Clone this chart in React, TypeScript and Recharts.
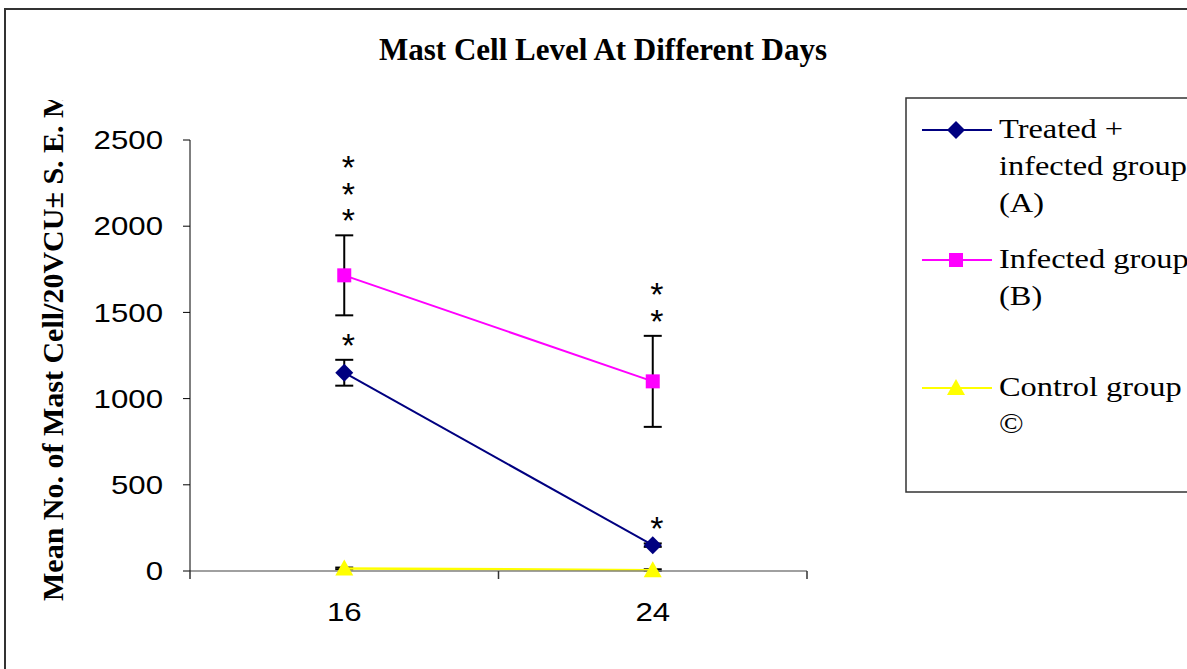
import { LineChart, Line, XAxis, YAxis, ErrorBar, LabelList } from "recharts";

// Days of observation (x categories)
const days = [16, 24];

// Mean mast cell counts and S.E.M. per group
const treated = [1150, 150];
const treatedErr = [75, 10];
const infected = [1715, 1100];
const infectedErr = [232, 264];
const control = [15, 5];
const controlErr = [5, 5];

// Significance stars drawn above each point
const treatedStars = [1, 1];
const infectedStars = [3, 2];

const yTicks = [0, 500, 1000, 1500, 2000, 2500];

const TITLE = "Mast Cell Level At Different Days";
const Y_LABEL = "Mean No. of Mast Cell/20VCU± S. E. M";

const NAVY = "#000080";
const MAGENTA = "#FF00FF";
const YELLOW = "#FFFF00";
const SERIF = "'Liberation Serif', 'Times New Roman', serif";
const SANS = "'Liberation Sans', Arial, sans-serif";

const legendItems = [
  { lines: ["Treated +", "infected group", "(A)"], color: NAVY, shape: "diamond", y: 130 },
  { lines: ["Infected group", "(B)"], color: MAGENTA, shape: "square", y: 260 },
  { lines: ["Control group", "©"], color: YELLOW, shape: "triangle", y: 388 },
];

// x ticks: boundaries between the day categories plus the days themselves
const step = days[1] - days[0];
const boundaries = [days[0] - step / 2, ...days.map((d) => d + step / 2)];
const xTicks = [...boundaries, ...days].sort((a, b) => a - b);

const data = days.map((day, i) => ({
  day,
  treated: treated[i],
  treatedErr: treatedErr[i],
  treatedTop: treated[i] + treatedErr[i],
  treatedStars: treatedStars[i],
  infected: infected[i],
  infectedErr: infectedErr[i],
  infectedTop: infected[i] + infectedErr[i],
  infectedStars: infectedStars[i],
  control: control[i],
  controlErr: controlErr[i],
}));

function markerShape(shape: string, cx: number, cy: number, color: string) {
  if (shape === "diamond") {
    return <path d={`M${cx},${cy - 9} L${cx + 9},${cy} L${cx},${cy + 9} L${cx - 9},${cy} Z`} fill={color} />;
  }
  if (shape === "square") {
    return <rect x={cx - 7} y={cy - 7} width={14} height={14} fill={color} />;
  }
  return <path d={`M${cx},${cy - 9} L${cx + 9},${cy + 7} L${cx - 9},${cy + 7} Z`} fill={color} />;
}

const makeDot = (shape: string, color: string) => (props: any) => {
  const { cx, cy, index } = props;
  if (cx == null || cy == null) return <g key={`e-${index}`} />;
  return <g key={`${shape}-${index}`}>{markerShape(shape, cx, cy, color)}</g>;
};

// Stacked asterisks above the top of the error bar (one text, one tspan per star)
function StarLabel(props: any) {
  const { x, y, value } = props;
  const n = Number(value) || 0;
  if (!n) return null;
  return (
    <text textAnchor="middle" fontSize={34} fontFamily={SANS} fill="#000">
      {Array.from({ length: n }, (_, k) => (
        <tspan key={k} x={x + 4} y={y - 3 - 26.5 * (n - 1 - k)}>
          *
        </tspan>
      ))}
    </text>
  );
}

function XTick(props: any) {
  const { x, y, payload } = props;
  const v = payload?.value;
  if (days.includes(v)) {
    return (
      <g transform={`translate(${x},${y + 50}) scale(1.2,1)`}>
        <text x={0} y={0} textAnchor="middle" fontSize={26} fontFamily={SANS} fill="#000">
          {v}
        </text>
      </g>
    );
  }
  return <line x1={x} x2={x} y1={y} y2={y + 8} stroke="#333" strokeWidth={1.5} />;
}

function YTick(props: any) {
  const { x, y, payload } = props;
  return (
    <g transform={`translate(${x},${y}) scale(1.2,1)`}>
      <text x={0} y={0} dy="0.35em" textAnchor="end" fontSize={26} fontFamily={SANS} fill="#000">
        {payload?.value}
      </text>
    </g>
  );
}

function Overlay() {
  return (
    <svg
      width={1187}
      height={669}
      style={{ position: "absolute", left: 0, top: 0, pointerEvents: "none" }}
    >
      <defs>
        <clipPath id="ylabelClip">
          <rect x={0} y={100} width={120} height={560} />
        </clipPath>
      </defs>
      {/* outer frame */}
      <rect x={5} y={9} width={1400} height={900} fill="none" stroke="#333" strokeWidth={2} />
      <text
        x={603}
        y={60}
        textAnchor="middle"
        fontSize={31}
        fontWeight="bold"
        fontFamily={SERIF}
        fill="#000"
      >
        {TITLE}
      </text>
      <g clipPath="url(#ylabelClip)">
        <text
          transform="translate(63,601) rotate(-90)"
          textAnchor="start"
          fontSize={30}
          fontWeight="bold"
          fontFamily={SERIF}
          fill="#000"
        >
          {Y_LABEL}
        </text>
      </g>
      {/* legend */}
      <rect x={906} y={98} width={400} height={394} fill="none" stroke="#333" strokeWidth={1.5} />
      {legendItems.map((item) => (
        <g key={item.lines[0]}>
          <line x1={922} x2={992} y1={item.y} y2={item.y} stroke={item.color} strokeWidth={2} />
          {markerShape(item.shape, 956, item.y, item.color)}
          <g transform="translate(999,0) scale(1.2,1)">
            <text fontSize={27} fontFamily={SERIF} fill="#000">
              {item.lines.map((ln, k) => (
                <tspan key={k} x={0} y={item.y + 8 + 37 * k}>
                  {ln}
                </tspan>
              ))}
            </text>
          </g>
        </g>
      ))}
    </svg>
  );
}

export default function App() {
  return (
    <div
      style={{
        position: "fixed",
        left: 0,
        top: 0,
        width: 1187,
        height: 669,
        overflow: "hidden",
        background: "#fff",
      }}
    >
      <LineChart
        width={1187}
        height={669}
        data={data}
        margin={{ top: 140, right: 380, bottom: 38, left: 130 }}
      >
        <XAxis
          dataKey="day"
          type="number"
          domain={[boundaries[0], boundaries[boundaries.length - 1]]}
          ticks={xTicks}
          interval={0}
          height={60}
          stroke="#808080"
          strokeWidth={1.5}
          tickLine={false}
          tickSize={0}
          tickMargin={0}
          tick={<XTick />}
        />
        <YAxis
          type="number"
          domain={[0, 2500]}
          ticks={yTicks}
          interval={0}
          width={60}
          stroke="#000"
          tickSize={7}
          tickMargin={20}
          tick={<YTick />}
        />
        <Line
          type="linear"
          dataKey="treated"
          stroke={NAVY}
          strokeWidth={2}
          dot={makeDot("diamond", NAVY)}
          activeDot={false}
          isAnimationActive={false}
        >
          <ErrorBar dataKey="treatedErr" width={9} stroke="#000" strokeWidth={2} direction="y" />
        </Line>
        <Line
          type="linear"
          dataKey="infected"
          stroke={MAGENTA}
          strokeWidth={2}
          dot={makeDot("square", MAGENTA)}
          activeDot={false}
          isAnimationActive={false}
        >
          <ErrorBar dataKey="infectedErr" width={9} stroke="#000" strokeWidth={2} direction="y" />
        </Line>
        <Line
          type="linear"
          dataKey="control"
          stroke={YELLOW}
          strokeWidth={2.5}
          dot={makeDot("triangle", YELLOW)}
          activeDot={false}
          isAnimationActive={false}
        >
          <ErrorBar dataKey="controlErr" width={9} stroke="#000" strokeWidth={2} direction="y" />
        </Line>
        <Line
          dataKey="treatedTop"
          stroke="none"
          dot={false}
          activeDot={false}
          legendType="none"
          isAnimationActive={false}
        >
          <LabelList dataKey="treatedStars" content={<StarLabel />} />
        </Line>
        <Line
          dataKey="infectedTop"
          stroke="none"
          dot={false}
          activeDot={false}
          legendType="none"
          isAnimationActive={false}
        >
          <LabelList dataKey="infectedStars" content={<StarLabel />} />
        </Line>
      </LineChart>
      <Overlay />
    </div>
  );
}
